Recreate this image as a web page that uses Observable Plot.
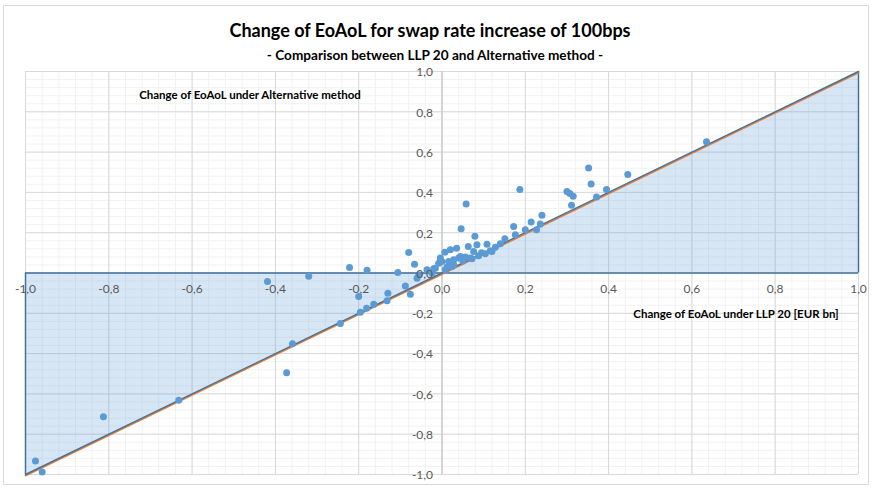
<!DOCTYPE html>
<html>
<head>
<meta charset="utf-8">
<script src="https://cdn.jsdelivr.net/npm/d3@7"></script>
<script src="https://cdn.jsdelivr.net/npm/@observablehq/plot@0.6"></script>
<style>
  html, body { margin: 0; padding: 0; background: #fff; }
  #wrap { position: relative; width: 875px; height: 489px; overflow: hidden; font-family: Lato, "Open Sans", sans-serif; }
  #frame { position: absolute; left: 3px; top: 5px; width: 866px; height: 480px; border: 1px solid #d9d9d9; box-sizing: border-box; }
  #title { position: absolute; left: 0; width: 860px; top: 20px; line-height: 20px; text-align: center; font-size: 18px; font-weight: bold; color: #000; }
  #subtitle { position: absolute; left: 0; width: 870px; top: 47px; line-height: 16px; text-align: center; font-size: 13.6px; font-weight: bold; color: #000; }
  #chart { position: absolute; left: 0; top: 60px; }
  .axtitle { position: absolute; font-size: 11.5px; font-weight: bold; color: #000; white-space: nowrap; transform: translate(-50%, -50%); }
</style>
</head>
<body>
<div id="wrap">
  <div id="frame"></div>
  <div id="title">Change of EoAoL for swap rate increase of 100bps</div>
  <div id="subtitle">- Comparison between LLP 20 and Alternative method -</div>
  <div id="chart"></div>
  <div class="axtitle" style="left:250px; top:94px;">Change of EoAoL under Alternative method</div>
  <div class="axtitle" style="left:736px; top:313px;">Change of EoAoL under LLP 20 [EUR bn]</div>
</div>
<script>
// Change of EoAoL under LLP 20 (x) and under Alternative method (y), EUR bn
const llp20 = [
  -0.976, -0.960, -0.813, -0.632, -0.419, -0.359, -0.373, -0.320, -0.244, -0.222,
  -0.200, -0.196, -0.181, -0.180, -0.164, -0.132, -0.130, -0.106, -0.088, -0.080,
  -0.076, -0.066, -0.060, -0.020, -0.004, 0.007, 0.020, 0.035, 0.046, 0.058,
  0.044, 0.063, 0.079, 0.084, 0.108, 0.151, 0.172, 0.187, 0.200, 0.214,
  0.227, 0.236, 0.240, 0.176, 0.300, 0.307, 0.315, 0.311, 0.352, 0.358,
  0.371, 0.395, 0.446, 0.635, 0.076, 0.116, 0.000, 0.028, 0.072, -0.008,
  -0.016, -0.036, -0.056, 0.016, 0.028, 0.040, 0.056, 0.068, 0.088, 0.104,
  0.120, 0.128, 0.008, 0.024, -0.024, 0.012, 0.050, 0.095, 0.140
];
const alternative = [
  -0.933, -0.988, -0.714, -0.631, -0.042, -0.351, -0.495, -0.016, -0.251, 0.027,
  -0.117, -0.195, -0.175, 0.014, -0.155, -0.138, -0.100, 0.002, -0.064, 0.102,
  -0.105, 0.044, -0.026, 0.021, 0.074, 0.103, 0.115, 0.123, 0.220, 0.342,
  0.082, 0.132, 0.182, 0.140, 0.143, 0.170, 0.231, 0.414, 0.215, 0.253,
  0.215, 0.243, 0.286, 0.190, 0.405, 0.394, 0.381, 0.336, 0.521, 0.442,
  0.377, 0.414, 0.489, 0.651, 0.107, 0.110, 0.057, 0.041, 0.071, 0.049,
  0.024, 0.016, -0.009, 0.057, 0.066, 0.074, 0.079, 0.074, 0.086, 0.096,
  0.107, 0.128, 0.016, 0.032, -0.001, 0.030, 0.060, 0.100, 0.145
];
// diagonal (LLP 20 = Alternative) reference line
const diagonal = [-1, 0, 1];
const xTickValues = [-1.0, -0.8, -0.6, -0.4, -0.2, 0.0, 0.2, 0.4, 0.6, 0.8, 1.0];
const yTickValues = [-1.0, -0.8, -0.6, -0.4, -0.2, 0.0, 0.2, 0.4, 0.6, 0.8, 1.0];

const points = llp20.map((x, i) => ({x, y: alternative[i]}));
const minorTicks = d3.range(-25, 26).map(i => i * 0.04);
const fmt = d => (d < -1e-9 ? "-" : "") + Math.abs(d).toFixed(1).replace(".", ",");

const blue = "#5B9BD5";
const outline = "#41719C";
const orange = "#ED7D31";

const chart = Plot.plot({
  width: 875,
  height: 429,
  marginTop: 11,
  marginBottom: 15,
  marginLeft: 25,
  marginRight: 17,
  x: {domain: [-1, 1], axis: null},
  y: {domain: [-1, 1], axis: null},
  style: {fontFamily: "Lato, 'Open Sans', sans-serif", background: "transparent"},
  marks: [
    Plot.ruleX(minorTicks, {stroke: "#f2f2f2", strokeWidth: 1}),
    Plot.ruleY(minorTicks, {stroke: "#f2f2f2", strokeWidth: 1}),
    Plot.ruleX(xTickValues, {stroke: "#d9d9d9", strokeWidth: 1}),
    Plot.ruleY(yTickValues, {stroke: "#d9d9d9", strokeWidth: 1}),
    Plot.areaY(diagonal, {x: d => d, y1: 0, y2: d => d, fill: blue, fillOpacity: 0.25}),
    Plot.ruleX([0], {stroke: "#bfbfbf", strokeWidth: 1}),
    Plot.ruleY([0], {stroke: outline, strokeWidth: 1.5}),
    Plot.ruleX([diagonal[0]], {y1: diagonal[0], y2: 0, stroke: outline, strokeWidth: 1.5}),
    Plot.ruleX([diagonal[2]], {y1: 0, y2: diagonal[2], stroke: outline, strokeWidth: 1.5}),
    Plot.line(diagonal, {x: d => d, y: d => d, stroke: orange, strokeWidth: 1.6, dy: 1.2}),
    Plot.line(diagonal, {x: d => d, y: d => d, stroke: outline, strokeWidth: 1.4}),
    Plot.dot(points, {x: "x", y: "y", r: 3.5, fill: blue, stroke: "none"}),
    Plot.text(xTickValues, {x: d => d, y: 0, text: fmt, dy: 16.5, fill: "#595959", fontSize: 12}),
    Plot.text(yTickValues, {x: 0, y: d => d, text: fmt, dx: -9, dy: 1, textAnchor: "end", fill: "#595959", fontSize: 12})
  ]
});
document.getElementById("chart").appendChild(chart);
</script>
</body>
</html>
